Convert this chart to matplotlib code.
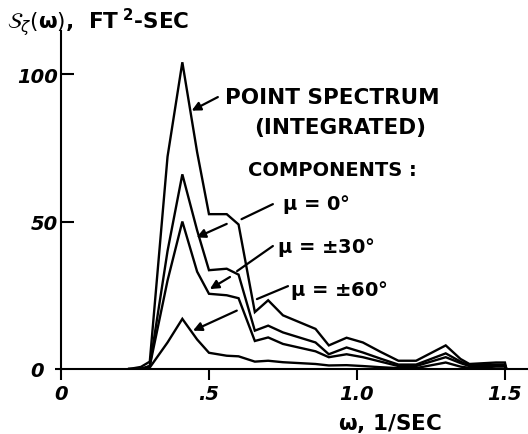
import matplotlib.pyplot as plt
import numpy as np

# frequency points (1/sec)
omega = [0.23, 0.27, 0.30, 0.36, 0.41, 0.46, 0.50, 0.56, 0.60, 0.655, 0.70, 0.75,
         0.86, 0.905, 0.965, 1.02, 1.08, 1.14, 1.20, 1.30, 1.35, 1.38, 1.47, 1.50, 1.505]

# spectral ordinates, ft^2-sec
point_spectrum = [0, 0.7, 2.5, 72, 104, 73.5, 52.5, 52.5, 49, 19.3, 23.3, 18.2,
                  13.6, 8, 10.6, 9, 5.8, 2.8, 2.8, 8, 3.4, 1.7, 2.2, 2.2, 0]
mu_0 = [0, 0, 1, 40, 66, 47, 33.5, 34, 32, 13, 14.7, 12.4,
        9, 5, 7.3, 5.6, 3.5, 1.5, 1.5, 5.3, 2.5, 1.2, 1.5, 1.5, 0]
mu_30 = [0, 0, 1, 30, 50, 33, 25.5, 25, 24, 9.5, 10.7, 8.5,
         6, 4, 5, 4, 2.5, 1, 1, 4, 2, 1, 1.2, 1.2, 0]
mu_60 = [0, 0, 0.5, 9, 17, 10, 5.5, 4.5, 4.3, 2.5, 2.8, 2.3,
         1.7, 1.2, 1.3, 1, 0.6, 0.3, 0.3, 2.2, 0.8, 0.4, 0.8, 0.8, 0]

xtick_vals = [0, 0.5, 1.0, 1.5]
xtick_labels = ['0', '.5', '1.0', '1.5']
ytick_vals = [50, 100]
ytick_labels = ['50', '100']

fig = plt.figure(figsize=(5.28, 4.35), dpi=100)
ax = fig.add_axes([61 / 528, 65 / 435, 467 / 528, 338 / 435])

for series in [point_spectrum, mu_0, mu_30, mu_60]:
    ax.plot(omega, series, color='black', lw=1.7, solid_joinstyle='miter')

ax.set_xlim(0, 1.578)
ax.set_ylim(0, 114.6)

# hand-drawn style axes
ax.spines['top'].set_visible(False)
ax.spines['right'].set_visible(False)
ax.spines['left'].set_linewidth(1.5)
ax.spines['bottom'].set_linewidth(1.5)

ax.set_xticks(xtick_vals)
ax.set_xticklabels(xtick_labels, fontsize=14, style='italic', weight='bold')
ax.tick_params(axis='x', direction='out', length=8, width=1.5, pad=3)

ax.set_yticks(ytick_vals)
ax.set_yticklabels(ytick_labels, fontsize=14, style='italic', weight='bold')
ax.tick_params(axis='y', which='major', direction='in', length=9, width=1.5, pad=2)
ax.set_yticks([0], minor=True)
ax.set_yticklabels(['0'], minor=True, fontsize=14, style='italic', weight='bold')
ax.tick_params(axis='y', which='minor', direction='out', length=4, width=1.5, pad=8)

fig.text(7 / 528, 1 - 22 / 435,
         r'$\mathcal{S}_\zeta(\mathbf{\omega})$,  FT$^{\ \mathbf{2}}$-SEC',
         fontsize=15.5, weight='bold', va='center', ha='left')
fig.text(390 / 528, 1 - 424 / 435, r'$\mathbf{\omega}$, 1/SEC', fontsize=15.5,
         weight='bold', va='center', ha='center')

# annotations
txt = dict(fontsize=15.5, color='black', weight='bold')
ax.text(0.554, 92.2, 'POINT SPECTRUM', ha='left', va='center', **txt)
ax.text(0.943, 82, '(INTEGRATED)', ha='center', va='center', **txt)
ax.text(0.917, 67.5, 'COMPONENTS :', ha='center', va='center', fontsize=14, weight='bold')
mu = dict(fontsize=14, color='black', weight='bold')
ax.text(0.747, 56, r'$\mathbf{\mu}$ = 0°', ha='left', va='center', **mu)
ax.text(0.73, 41.4, r'$\mathbf{\mu}$ = ±30°', ha='left', va='center', **mu)
ax.text(0.774, 27, r'$\mathbf{\mu}$ = ±60°', ha='left', va='center', **mu)

arrow = dict(arrowstyle='-|>', color='black', lw=1.6, mutation_scale=13,
             shrinkA=0, shrinkB=0)
line = dict(arrowstyle='-', color='black', lw=1.6, shrinkA=0, shrinkB=0)

ax.annotate('', xy=(0.4416, 87.6), xytext=(0.530, 92.2), arrowprops=arrow)

ax.annotate('', xy=(0.610, 50.8), xytext=(0.716, 55.9), arrowprops=line)
ax.annotate('', xy=(0.458, 44.6), xytext=(0.560, 49.2), arrowprops=arrow)

ax.annotate('', xy=(0.595, 33.2), xytext=(0.716, 41.7), arrowprops=line)
ax.annotate('', xy=(0.503, 27.1), xytext=(0.571, 31.2), arrowprops=arrow)

ax.annotate('', xy=(0.662, 23.7), xytext=(0.767, 28.1), arrowprops=line)
ax.annotate('', xy=(0.446, 13.0), xytext=(0.594, 19.8), arrowprops=arrow)

fig.savefig('out.png', dpi=100)
